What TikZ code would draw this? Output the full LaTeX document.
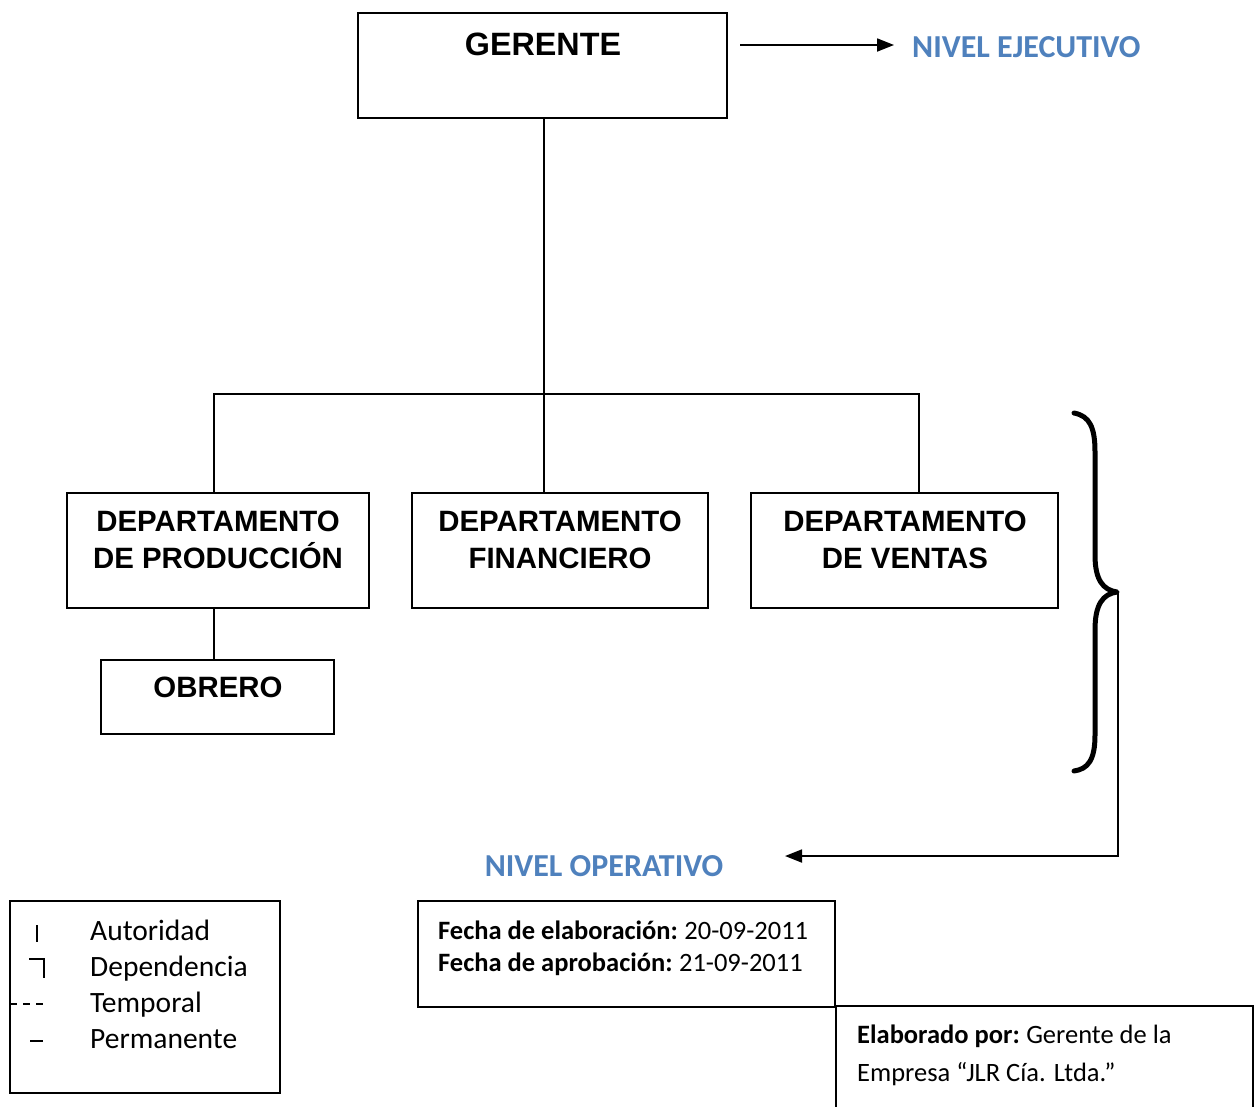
\documentclass[tikz,border=0pt]{standalone}
\usepackage{fontspec}
\setmainfont{Carlito}
\newfontfamily\arialf{Liberation Sans}
\usetikzlibrary{arrows.meta}
\definecolor{nivblue}{RGB}{79,129,189}
\begin{document}
\begin{tikzpicture}[x=1pt,y=-1pt,
  box/.style={draw, line width=1.8pt, inner sep=0pt},
  conn/.style={line width=1.8pt},
  arr/.style={line width=1.8pt, -{Triangle[length=17pt,width=13pt]}},
  btitle/.style={font=\arialf\bfseries\fontsize{29.4}{37}\selectfont, align=center, inner sep=0pt},
  niv/.style={font=\bfseries\fontsize{32}{36}\selectfont, text=nivblue, inner sep=0pt},
  legtext/.style={font=\fontsize{29.5}{36}\selectfont, anchor=base west, inner sep=0pt},
  info/.style={font=\fontsize{26.5}{32}\selectfont, anchor=base west, inner sep=0pt}]
\useasboundingbox (0,0) rectangle (1258,1106);
\fill[white] (0,0) rectangle (1258,1106);

% boxes
\node[box, minimum width=369pt, minimum height=105pt] (ger) at (542.5,65.5) {};
\node[box, minimum width=302pt, minimum height=115pt] (d1) at (218,550.5) {};
\node[box, minimum width=296pt, minimum height=115pt] (d2) at (560,550.5) {};
\node[box, minimum width=307pt, minimum height=115pt] (d3) at (904.5,550.5) {};
\node[box, minimum width=233pt, minimum height=74pt] (obr) at (217.5,697) {};

% titles
\node[btitle, font=\arialf\bfseries\fontsize{32.3}{37}\selectfont] (tger) at (543,44) {GERENTE};
\node[btitle] (td1) at (218,539.5) {DEPARTAMENTO\\DE PRODUCCIÓN};
\node[btitle] (td2) at (560,539.5) {DEPARTAMENTO\\FINANCIERO};
\node[btitle] (td3) at (905,539.5) {DEPARTAMENTO\\DE VENTAS};
\node[btitle] (tobr) at (218,687) {OBRERO};

% tree connectors
\coordinate (b1) at (214,394);
\coordinate (gm) at (544,394);
\coordinate (b3) at (919,394);
\draw[conn] (gm |- ger.south) -- (gm |- d2.north);
\draw[conn] (b1 |- d1.north) -- (b1) -- (b3) -- (b3 |- d3.north);
\draw[conn] (b1 |- d1.south) -- (b1 |- obr.north);

% nivel ejecutivo
\node[niv, anchor=west] (ejec) at (912,47) {NIVEL EJECUTIVO};
\coordinate (ea1) at (740,45);
\draw[arr] (ea1) -- (894,45);

% brace
\coordinate (tip) at (1117,592);
\draw[line width=5pt, line cap=round, line join=round] (1074,413) .. controls (1090,416) and (1095,428) .. (1095,452) -- (1095,555)
  .. controls (1095,580) and (1103,590) .. (tip)
  .. controls (1103,594) and (1095,604) .. (1095,630) -- (1095,735)
  .. controls (1095,760) and (1088,769) .. (1074,771);

% nivel operativo
\node[niv] (oper) at (604,866) {NIVEL OPERATIVO};
\coordinate (oa) at (785,856);
\draw[arr] (1118,592) -- (1118,856) -- (oa);

% legend
\node[box, minimum width=270pt, minimum height=192pt] (leg) at (145,997) {};
\draw[line width=1.3pt] (37,925) -- (37,942);
\draw[line width=1.3pt] (29,959) -- (44,959) -- (44,978);
\draw[line width=1.3pt, dash pattern=on 7pt off 6pt] (10,1004) -- (48,1004);
\draw[line width=1.3pt] (30,1041) -- (43,1041);
\node[legtext] (l1) at (90,940) {Autoridad};
\node[legtext] (l2) at (90,976) {Dependencia};
\node[legtext] (l3) at (90,1012) {Temporal};
\node[legtext] (l4) at (90,1048) {Permanente};

% info boxes
\node[box, minimum width=417pt, minimum height=106pt] (fecha) at (626.5,954) {};
\node[info] (f1) at (438,939) {\textbf{Fecha de elaboración:}\hspace{-1.5pt} 20-09-2011};
\node[info] (f2) at (438,971) {\textbf{Fecha de aprobación:}\hspace{-1.5pt} 21-09-2011};
\draw[line width=1.8pt] (836,1120) -- (836,1006) -- (1253,1006) -- (1253,1120);
\node[info] (e1) at (857,1043) {\textbf{Elaborado por:}\hspace{-1.5pt} Gerente de la};
\node[info] (e2) at (857,1081) {Empresa “JLR Cía. Ltda.”};
\end{tikzpicture}
\end{document}
